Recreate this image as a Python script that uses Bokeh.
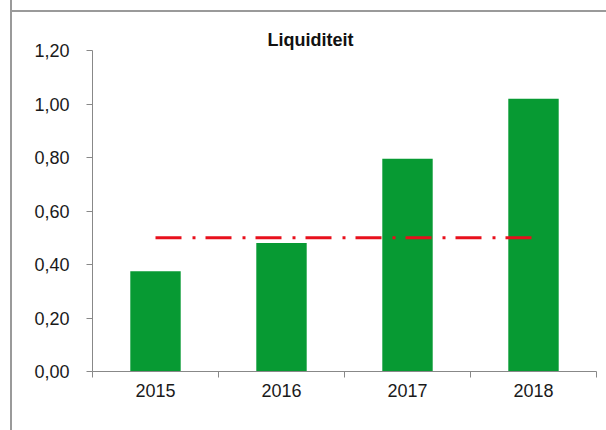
from bokeh.plotting import figure
from bokeh.models import Range1d, FixedTicker, CustomJSTickFormatter, ColumnDataSource, InlineStyleSheet
from bokeh.embed import file_html
from bokeh.resources import INLINE

years = ["2015", "2016", "2017", "2018"]
liquiditeit = [0.375, 0.48, 0.795, 1.02]
norm = [0.50, 0.50, 0.50, 0.50]
y_ticks = [0.0, 0.2, 0.4, 0.6, 0.8, 1.0, 1.2]

xs = [i + 0.5 for i in range(len(years))]
src = ColumnDataSource(dict(x=xs, top=liquiditeit, norm=norm, year=years))

p = figure(width=606, height=430, output_backend="svg", toolbar_location=None,
           x_range=Range1d(0, len(years)), y_range=Range1d(0, 1.2),
           min_border_left=92, min_border_right=10, min_border_top=50, min_border_bottom=59)
p.outline_line_color = None
p.xgrid.visible = False
p.ygrid.visible = False
p.background_fill_color = "white"
p.border_fill_color = "white"

p.title.text = "Liquiditeit"
p.title.text_font = "Liberation Sans"
p.title.text_font_size = "18px"
p.title.text_font_style = "bold"
p.title.text_color = "#111111"
p.title.align = "left"
p.title.offset = 175
p.title.standoff = 2

p.vbar(x="x", top="top", width=0.4, bottom=0, source=src,
       fill_color="#079A33", line_color=None)
p.line(x="x", y="norm", source=src, line_color="#E8101C", line_width=3,
       line_dash="26 11 3 10", line_cap="butt")

font = "Liberation Sans"
# y axis
ya = p.yaxis[0]
ya.ticker = FixedTicker(ticks=y_ticks, minor_ticks=[])
ya.formatter = CustomJSTickFormatter(code="return tick.toFixed(2).replace('.', ',');")
ya.axis_line_color = "#888888"
ya.major_tick_line_color = "#888888"
ya.major_tick_out = 6
ya.major_tick_in = 0
ya.minor_tick_line_color = None
ya.major_label_text_font = font
ya.major_label_text_font_size = "18px"
ya.major_label_text_color = "#1a1a1a"
ya.major_label_standoff = 17

# x axis
xa = p.xaxis[0]
xa.ticker = FixedTicker(ticks=xs, minor_ticks=list(range(len(years) + 1)))
xa.major_label_overrides = {x: y for x, y in zip(xs, years)}
xa.axis_line_color = "#888888"
xa.major_tick_line_color = None
xa.major_tick_out = 6
xa.major_tick_in = 0
xa.minor_tick_line_color = "#888888"
xa.minor_tick_out = 6
xa.minor_tick_in = 0
xa.major_label_text_font = font
xa.major_label_text_font_size = "18px"
xa.major_label_text_color = "#1a1a1a"
xa.major_label_standoff = 6

p.stylesheets = [InlineStyleSheet(css="""
:host::before { content: ''; position: absolute; left: 10px; top: 0px; width: 2px; height: 430px;
  background: #9a9a9a; z-index: 10; pointer-events: none; }
:host::after { content: ''; position: absolute; left: 10px; top: 10px; width: 596px; height: 2px;
  background: #9a9a9a; z-index: 10; pointer-events: none; }
""")]

open("out.html", "w").write(file_html(p, INLINE))
